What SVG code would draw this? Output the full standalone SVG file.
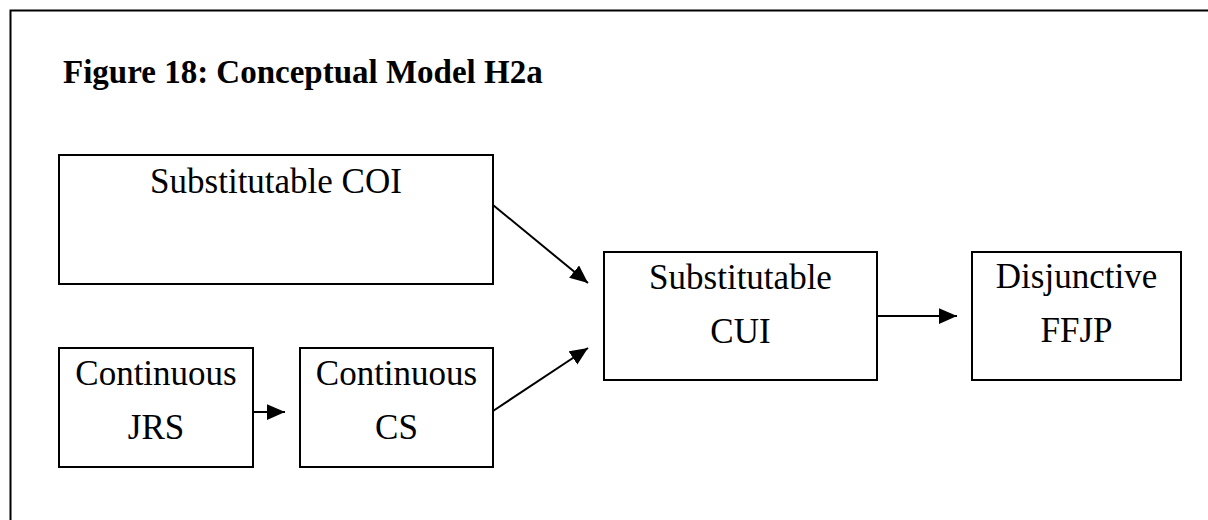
<svg xmlns="http://www.w3.org/2000/svg" width="1208" height="520" viewBox="0 0 1208 520">
  <style>
    .box { fill: #ffffff; stroke: #000000; stroke-width: 2; }
    .lbl { font-family: "Liberation Serif", "Times New Roman", serif; font-size: 35px; fill: #000000; text-anchor: middle; }
    .title { font-family: "Liberation Serif", "Times New Roman", serif; font-size: 33px; font-weight: bold; fill: #000000; }
    .conn { stroke: #000000; stroke-width: 2; fill: none; marker-end: url(#arrow); }
  </style>
  <defs>
    <marker id="arrow" markerUnits="userSpaceOnUse" markerWidth="18" markerHeight="16" viewBox="0 0 16 14" refX="16" refY="7" orient="auto">
      <path d="M0,0 L16,7 L0,14 Z" fill="#000000"/>
    </marker>
  </defs>
  <rect x="0" y="0" width="1208" height="520" fill="#ffffff"/>
  <g id="frame">
    <rect x="10.5" y="10.5" width="1250" height="560" fill="none" stroke="#000000" stroke-width="2"/>
  </g>
  <g id="title">
    <text class="title" x="63" y="83">Figure 18: Conceptual Model H2a</text>
  </g>
  <g id="connectors">
    <line class="conn" x1="493" y1="205" x2="588" y2="283"/>
    <line class="conn" x1="493" y1="411" x2="588" y2="348"/>
    <line class="conn" x1="253" y1="412" x2="285" y2="412"/>
    <line class="conn" x1="877" y1="316" x2="957" y2="316"/>
  </g>
  <g id="node-coi">
    <rect class="box" x="59" y="155" width="434" height="129"/>
    <text class="lbl" x="276" y="193">Substitutable COI</text>
  </g>
  <g id="node-jrs">
    <rect class="box" x="59" y="348" width="194" height="119"/>
    <text class="lbl" x="156" y="385">Continuous</text>
    <text class="lbl" x="156" y="439">JRS</text>
  </g>
  <g id="node-cs">
    <rect class="box" x="300" y="348" width="193" height="119"/>
    <text class="lbl" x="396.5" y="385">Continuous</text>
    <text class="lbl" x="396.5" y="439">CS</text>
  </g>
  <g id="node-cui">
    <rect class="box" x="604" y="252" width="273" height="128"/>
    <text class="lbl" x="740.5" y="289">Substitutable</text>
    <text class="lbl" x="740.5" y="343">CUI</text>
  </g>
  <g id="node-ffjp">
    <rect class="box" x="972" y="252" width="209" height="128"/>
    <text class="lbl" x="1076.5" y="288">Disjunctive</text>
    <text class="lbl" x="1076.5" y="342">FFJP</text>
  </g>
</svg>
